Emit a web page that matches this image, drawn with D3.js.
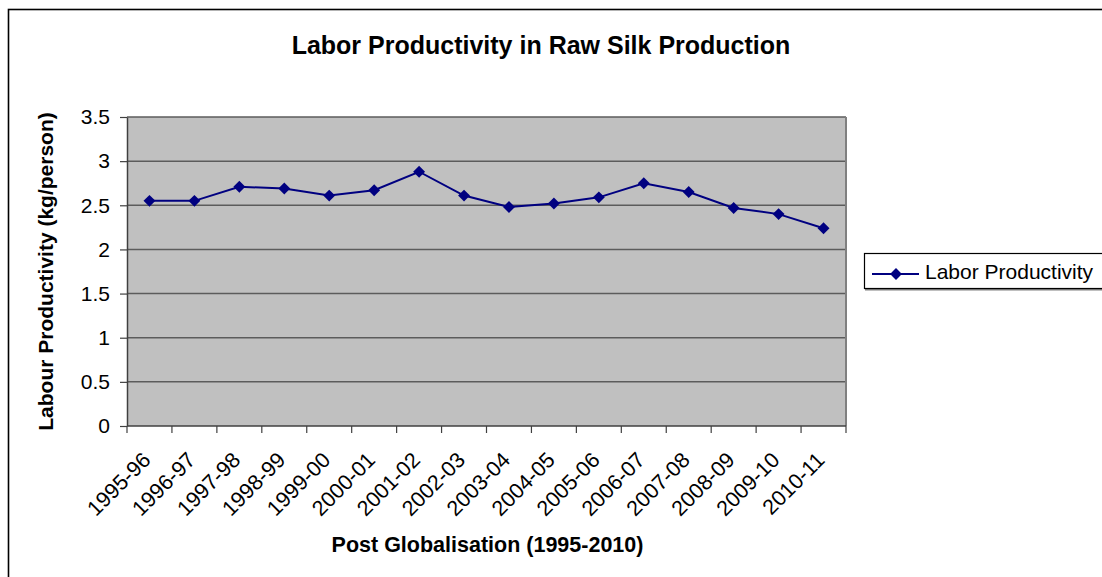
<!DOCTYPE html>
<html>
<head>
<meta charset="utf-8">
<script src="https://cdn.jsdelivr.net/npm/d3@7"></script>
<style>
  body { margin: 0; background: #fff; }
  svg { display: block; font-family: Arial, "Liberation Sans", sans-serif; }
</style>
</head>
<body>
<div id="canvas"></div>
<script>
var years = ["1995-96","1996-97","1997-98","1998-99","1999-00","2000-01","2001-02","2002-03",
             "2003-04","2004-05","2005-06","2006-07","2007-08","2008-09","2009-10","2010-11"];
var productivity = [2.55, 2.55, 2.71, 2.69, 2.61, 2.67, 2.88, 2.61,
                    2.48, 2.52, 2.59, 2.75, 2.65, 2.47, 2.40, 2.24];
var yTicks = [0, 0.5, 1, 1.5, 2, 2.5, 3, 3.5];
var seriesName = "Labor Productivity";

var width = 1102, height = 577;
var margin = {top: 117, right: 256, bottom: 151, left: 127};

var svg = d3.select("#canvas").append("svg")
    .attr("width", width)
    .attr("height", height);

// chart frame
svg.append("rect")
    .attr("x", 8.5).attr("y", 9.5)
    .attr("width", 1200).attr("height", 700)
    .attr("fill", "none").attr("stroke", "#000").attr("stroke-width", 1.6);

var x = d3.scaleBand()
    .domain(years)
    .range([margin.left, width - margin.right]);

var y = d3.scaleLinear()
    .domain([0, 3.5])
    .range([height - margin.bottom, margin.top]);

// plot area
svg.append("rect")
    .attr("x", x.range()[0]).attr("y", y(3.5))
    .attr("width", x.range()[1] - x.range()[0])
    .attr("height", y(0) - y(3.5))
    .attr("fill", "#c0c0c0");

// gridlines
svg.append("g")
  .selectAll("line")
  .data(yTicks.filter(function(d){ return d > 0; }))
  .join("line")
    .attr("x1", x.range()[0]).attr("x2", x.range()[1])
    .attr("y1", function(d){ return y(d); }).attr("y2", function(d){ return y(d); })
    .attr("stroke", "#5c5c5c").attr("stroke-width", 1.5);

// right edge of plot area
svg.append("line")
    .attr("x1", x.range()[1]).attr("x2", x.range()[1])
    .attr("y1", y(3.5)).attr("y2", y(0))
    .attr("stroke", "#808080").attr("stroke-width", 2);

// Y axis
var yAxis = svg.append("g")
    .attr("transform", "translate(" + margin.left + ",0)")
    .call(d3.axisLeft(y).tickValues(yTicks).tickSizeInner(7).tickSizeOuter(0)
      .tickFormat(function(d){ return d; }));
yAxis.select(".domain").attr("stroke", "#404040").attr("stroke-width", 1.5);
yAxis.selectAll(".tick line").attr("stroke", "#404040").attr("stroke-width", 1.2);
yAxis.selectAll(".tick text")
    .attr("x", -17).attr("font-size", 21).attr("fill", "#000").attr("font-family", "Arial, 'Liberation Sans'");

// X axis (ticks at category boundaries)
var bounds = years.map(function(d){ return x(d); }).concat([x.range()[1]]);
var xAxis = svg.append("g")
    .attr("transform", "translate(0," + y(0) + ")");
xAxis.append("line")
    .attr("x1", x.range()[0]).attr("x2", x.range()[1])
    .attr("stroke", "#404040").attr("stroke-width", 1.5);
xAxis.selectAll(".btick")
  .data(bounds)
  .join("line")
    .attr("class", "btick")
    .attr("x1", function(d){ return d; }).attr("x2", function(d){ return d; })
    .attr("y1", 0).attr("y2", 7)
    .attr("stroke", "#404040").attr("stroke-width", 1.2);
xAxis.selectAll(".lbl")
  .data(years)
  .join("text")
    .attr("class", "lbl")
    .attr("transform", function(d){
      return "translate(" + (x(d) + x.bandwidth() / 2 - 9) + ",24) rotate(-45)";
    })
    .attr("text-anchor", "end")
    .attr("dy", "0.75em")
    .attr("font-size", 21.5)
    .text(function(d){ return d; });

// line + markers
var line = d3.line()
    .x(function(d, i){ return x(years[i]) + x.bandwidth() / 2; })
    .y(function(d){ return y(d); });

svg.append("path")
    .datum(productivity)
    .attr("d", line)
    .attr("fill", "none")
    .attr("stroke", "#000080")
    .attr("stroke-width", 2);

var diamond = d3.symbol().type(d3.symbolDiamond2).size(90);
svg.append("g")
  .selectAll("path")
  .data(productivity)
  .join("path")
    .attr("transform", function(d, i){
      return "translate(" + (x(years[i]) + x.bandwidth() / 2) + "," + y(d) + ")";
    })
    .attr("d", diamond)
    .attr("fill", "#000080");

// titles
svg.append("text")
    .attr("x", 541).attr("y", 54)
    .attr("text-anchor", "middle")
    .attr("font-size", 25).attr("font-weight", "bold")
    .text("Labor Productivity in Raw Silk Production");

svg.append("text")
    .attr("transform", "translate(53," + ((y(0) + y(3.5)) / 2) + ") rotate(-90)")
    .attr("text-anchor", "middle")
    .attr("font-size", 21).attr("font-weight", "bold")
    .text("Labour Productivity (kg/person)");

svg.append("text")
    .attr("x", (x.range()[0] + x.range()[1]) / 2 + 1).attr("y", 552)
    .attr("text-anchor", "middle")
    .attr("font-size", 21.5).attr("font-weight", "bold")
    .text("Post Globalisation (1995-2010)");

// legend
var legend = svg.append("g").attr("transform", "translate(864,253)");
legend.append("rect")
    .attr("x", 1).attr("y", 36).attr("width", 300).attr("height", 1.5)
    .attr("fill", "#808080");
legend.append("rect")
    .attr("x", 0.5).attr("y", 0.5).attr("width", 300).attr("height", 35)
    .attr("fill", "#fff").attr("stroke", "#000").attr("stroke-width", 1.2);
legend.append("line")
    .attr("x1", 8).attr("x2", 55).attr("y1", 21).attr("y2", 21)
    .attr("stroke", "#000080").attr("stroke-width", 2);
legend.append("path")
    .attr("transform", "translate(32,21)")
    .attr("d", diamond)
    .attr("fill", "#000080");
legend.append("text")
    .attr("x", 61).attr("y", 26)
    .attr("font-size", 21)
    .text(seriesName);
</script>
</body>
</html>
